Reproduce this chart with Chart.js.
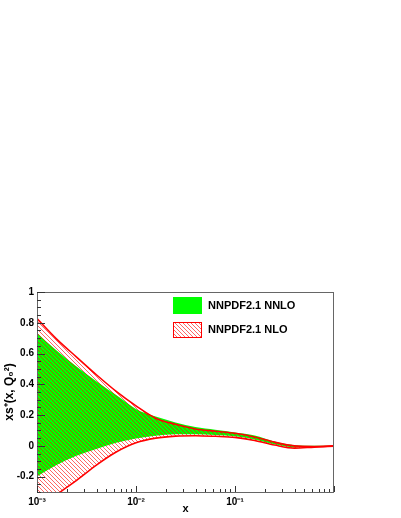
<!DOCTYPE html>
<html>
<head>
<meta charset="utf-8">
<script src="https://cdn.jsdelivr.net/npm/chart.js@4.4.0/dist/chart.umd.min.js"></script>
<style>
    html, body { margin: 0; padding: 0; background: #fff; }
    #chart { display: block; }
</style>
</head>
<body>
<canvas id="chart" width="401" height="518"></canvas>
<script>
// Valores (x em escala log)
var xValues   = [0.001, 0.00158, 0.00251, 0.00398, 0.00631, 0.01, 0.0158, 0.0251, 0.0398, 0.0631, 0.1, 0.158, 0.251, 0.398, 0.631, 1];
var nnloUpper = [0.734, 0.62, 0.516, 0.42, 0.33, 0.24, 0.19, 0.152, 0.122, 0.105, 0.087, 0.068, 0.028, 0.004, 0.0, 0.0];
var nnloLower = [-0.2, -0.125, -0.065, -0.02, 0.02, 0.048, 0.065, 0.075, 0.075, 0.07, 0.062, 0.042, 0.01, -0.01, -0.006, 0.0];
var nloUpper  = [0.827, 0.694, 0.577, 0.462, 0.354, 0.26, 0.18, 0.14, 0.11, 0.095, 0.082, 0.058, 0.024, 0.0, -0.004, 0.0];
var nloLower  = [-0.46, -0.32, -0.225, -0.125, -0.04, 0.02, 0.05, 0.063, 0.066, 0.062, 0.055, 0.035, 0.005, -0.015, -0.008, -0.002];

var xTicks = [0.001, 0.01, 0.1];
var xTickLabels = ['10\u207B\u00B3', '10\u207B\u00B2', '10\u207B\u00B9'];
var yTicks = [-0.2, 0, 0.2, 0.4, 0.6, 0.8, 1];
var yTickLabels = ['-0.2', '0', '0.2', '0.4', '0.6', '0.8', '1'];

var legendLabels = ['NNPDF2.1 NNLO', 'NNPDF2.1 NLO'];

var GREEN = '#00ff00';
var RED = '#ff0000';

function pontos(ys) {
    var out = [];
    for (var i = 0; i < xValues.length; i++) out.push({ x: xValues[i], y: ys[i] });
    return out;
}

// padrao hachurado "\\\\"
function criarHachura() {
    var c = document.createElement('canvas');
    c.width = 4; c.height = 4;
    var g = c.getContext('2d');
    g.fillStyle = 'rgba(255,0,0,0.6)';
    for (var i = 0; i < 4; i++) g.fillRect(i, i, 1, 1);
    return g.createPattern(c, 'repeat');
}
var hachura = criarHachura();

var fontTick = { family: 'Liberation Sans', size: 10, weight: 'bold' };

// moldura e ticks para dentro, estilo ROOT
var rootFrame = {
    id: 'rootFrame',
    afterDatasetsDraw: function(chart) {
        var ctx = chart.ctx, a = chart.chartArea;
        var xs = chart.scales.x, ys = chart.scales.y;
        ctx.save();
        ctx.strokeStyle = '#666';
        ctx.lineWidth = 1;
        ctx.strokeRect(a.left + 0.5, a.top + 0.5, a.right - a.left - 1, a.bottom - a.top);

        ctx.strokeStyle = '#333';
        ctx.beginPath();
        // y: principais a cada 0.2, secundarios a cada 0.05
        for (var k = -6; k <= 20; k++) {
            var v = k * 0.05;
            var py = Math.round(ys.getPixelForValue(v)) + 0.5;
            var len = (k % 4 === 0) ? 8 : 4;
            ctx.moveTo(a.left, py);
            ctx.lineTo(a.left + len, py);
        }
        // x: decadas e 2..9
        for (var d = -3; d <= 0; d++) {
            for (var m = 1; m <= 9; m++) {
                var xv = m * Math.pow(10, d);
                if (xv > 1) break;
                var px = Math.round(xs.getPixelForValue(xv)) + 0.5;
                var l = (m === 1) ? 6 : 3;
                ctx.moveTo(px, a.bottom);
                ctx.lineTo(px, a.bottom - l);
            }
        }
        ctx.stroke();
        ctx.restore();
    },
    afterDraw: function(chart) {
        var ctx = chart.ctx, a = chart.chartArea;
        var bx = a.left + 136, bw = 29;
        ctx.save();
        ctx.fillStyle = GREEN;
        ctx.fillRect(bx, a.top + 5, bw, 17);
        ctx.fillStyle = hachura;
        ctx.fillRect(bx, a.top + 30, bw, 16);
        ctx.strokeStyle = RED;
        ctx.lineWidth = 1;
        ctx.strokeRect(bx + 0.5, a.top + 30.5, bw - 1, 15);
        ctx.fillStyle = '#000';
        ctx.font = 'bold 11px "Liberation Sans"';
        ctx.textBaseline = 'middle';
        ctx.fillText(legendLabels[0], bx + 35, a.top + 14);
        ctx.fillText(legendLabels[1], bx + 35, a.top + 38);
        ctx.restore();
    }
};

new Chart(document.getElementById('chart'), {
    type: 'line',
    data: {
        datasets: [
            { label: 'NLO up', data: pontos(nloUpper), borderColor: RED, borderWidth: 1.6,
              backgroundColor: hachura, fill: '+1', pointRadius: 0, cubicInterpolationMode: 'monotone' },
            { label: 'NLO down', data: pontos(nloLower), borderColor: RED, borderWidth: 1.6,
              fill: false, pointRadius: 0, cubicInterpolationMode: 'monotone' },
            { label: 'NNLO up', data: pontos(nnloUpper), borderColor: 'rgba(0,0,0,0)', borderWidth: 0,
              backgroundColor: GREEN, fill: '+1', pointRadius: 0, cubicInterpolationMode: 'monotone' },
            { label: 'NNLO down', data: pontos(nnloLower), borderColor: 'rgba(0,0,0,0)', borderWidth: 0,
              fill: false, pointRadius: 0, cubicInterpolationMode: 'monotone' }
        ]
    },
    options: {
        responsive: false,
        animation: false,
        layout: { padding: { top: 292, right: 67, left: 0, bottom: 0 } },
        plugins: {
            legend: { display: false },
            tooltip: { enabled: false }
        },
        scales: {
            x: {
                type: 'logarithmic',
                min: 0.001,
                max: 1,
                grid: { display: false, drawTicks: false, tickLength: 0 },
                border: { display: false },
                afterBuildTicks: function(scale) {
                    scale.ticks = xTicks.map(function(v) { return { value: v }; });
                },
                afterFit: function(scale) { scale.height = 26; },
                ticks: {
                    autoSkip: false, maxRotation: 0, padding: 4,
                    color: '#000', font: fontTick,
                    callback: function(value, index) { return xTickLabels[index]; }
                },
                title: {
                    display: true, text: 'x', color: '#000',
                    font: { family: 'Liberation Sans', size: 11, weight: 'bold' },
                    padding: { top: 0, bottom: 2 }
                }
            },
            y: {
                min: -0.3,
                max: 1,
                grid: { display: false, drawTicks: false, tickLength: 0 },
                border: { display: false },
                afterBuildTicks: function(scale) {
                    scale.ticks = yTicks.map(function(v) { return { value: v }; });
                },
                afterFit: function(scale) { scale.width = 37; },
                ticks: {
                    autoSkip: false, padding: 3,
                    color: '#000', font: fontTick,
                    callback: function(value, index) { return yTickLabels[index]; }
                },
                title: {
                    display: true, text: 'xs\u207A(x, Q\u2080\u00B2)', color: '#000',
                    font: { family: 'Liberation Sans', size: 12, weight: 'bold' },
                    padding: { top: 2, bottom: 0 }
                }
            }
        }
    },
    plugins: [rootFrame]
});
</script>
</body>
</html>
